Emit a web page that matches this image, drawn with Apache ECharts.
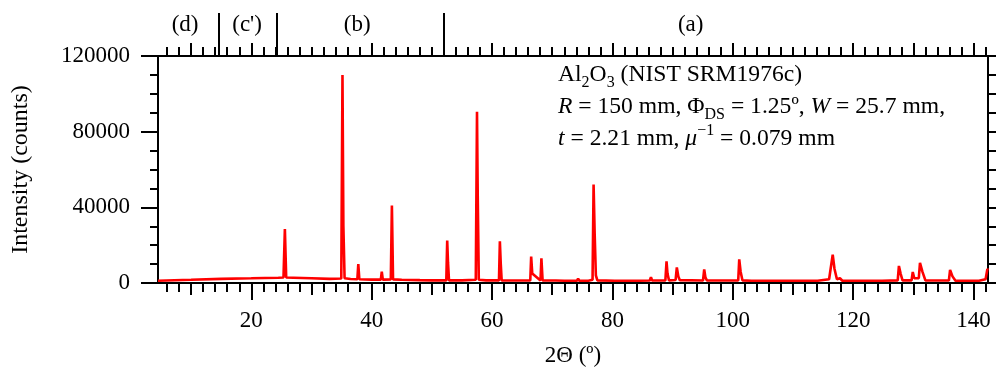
<!DOCTYPE html>
<html>
<head>
<meta charset="utf-8">
<script src="https://cdn.jsdelivr.net/npm/echarts@6/dist/echarts.min.js"></script>
<style>
  html, body { margin: 0; padding: 0; background: #fff; }
  #chart { width: 997px; height: 372px; }
</style>
</head>
<body>
<div id="chart"></div>
<script>
// 2Θ (deg) and intensity (counts)
var twoTheta = [4.5, 10, 15, 20, 24.5, 25.35, 25.58, 25.8, 27, 30, 33, 34.95, 35.15, 35.3, 35.5, 36.5,
  37.62, 37.78, 37.95, 40, 41.52, 41.68, 41.85, 43.18, 43.36, 43.55, 45, 48, 50,
  52.4, 52.55, 52.68, 52.85, 55, 57.3, 57.5, 57.62, 57.8, 59, 61.15, 61.3, 61.45, 61.6, 63,
  66.35, 66.5, 66.68, 68.05, 68.2, 68.4, 70.2, 70.4, 70.6, 72, 74.1, 74.3, 74.5, 76, 76.7, 76.87, 77.05, 77.25, 77.5,
  80.4, 80.6, 80.8, 83.0, 83.2, 83.4, 84.2, 84.4, 84.6, 86.2, 86.4, 86.6, 88.8, 88.99, 89.15, 89.4,
  90.5, 90.7, 90.95, 91.2, 95.05, 95.25, 95.45, 95.7, 100.9, 101.07, 101.3, 101.6,
  103.1, 103.3, 103.5, 109.5, 110.7, 110.9, 111.1, 113.7, 113.9, 114.1, 116.0, 116.6, 116.9, 117.3, 117.8, 118.2,
  121.9, 122.1, 122.3, 124.4, 124.6, 124.8, 127.4, 127.6, 127.9, 128.2, 129.7, 129.9, 130.15, 130.9, 131.1, 131.5, 132,
  135.9, 136.1, 136.5, 137, 140.5, 140.7, 140.9, 142.0, 142.3, 142.4];
var counts = [1200, 1700, 2200, 2500, 2800, 2900, 28500, 2900, 2800, 2500, 2200, 2400, 110000, 30000, 2500, 2100,
  2000, 10000, 2000, 1800, 1800, 6000, 1800, 1900, 41000, 1900, 1700, 1500, 1400,
  1400, 22500, 11000, 1400, 1400, 1700, 90500, 46500, 1700, 1400, 1400, 22000, 10000, 1400, 1300,
  1300, 14000, 5000, 1300, 13000, 1300, 1300, 2200, 1300, 1200, 1200, 2300, 1200, 1200, 1700, 52000, 26000, 4000, 1400,
  1200, 2200, 1200, 1200, 1700, 1200, 1200, 2200, 1200, 1300, 3000, 1300, 1400, 11500, 5000, 1400,
  1600, 8200, 3500, 1500, 1300, 7200, 3000, 1300, 1300, 12500, 6000, 1400,
  1200, 1800, 1200, 1200, 1200, 2200, 1200, 1200, 2000, 1200, 2000, 15000, 7400, 2000, 2500, 1200,
  1200, 1600, 1200, 1200, 1600, 1200, 1400, 9000, 4700, 1400, 1400, 5800, 2500, 2500, 10700, 6000, 1400,
  1300, 6900, 3500, 1200, 1200, 1500, 1200, 2000, 7400, 7000];

var xLabelTicks = [20, 40, 60, 80, 100, 120, 140];
var xMidTicks = [10, 30, 50, 70, 90, 110, 130];
var xMinorTicks = [];
for (var t = 6; t <= 142; t += 2) { if (t % 10 !== 0) xMinorTicks.push(t); }
var xTopMidTicks = [10, 20, 40, 60, 80, 100, 120, 130, 140];
var xTopMinorTicks = [];
for (var u = 6; u <= 142; u += 2) { if (xTopMidTicks.indexOf(u) < 0) xTopMinorTicks.push(u); }
var regionEdges = [14.6, 24.2, 51.9];
var regionLabelPos = [9, 19.3, 37.6, 93];
var regionLabels = ['(d)', "(c')", '(b)', '(a)'];

var serif = 'Liberation Serif, Times New Roman, serif';
var xMin = 4.5, xMax = 142.4;

function tickAxis(pos, ticks, len, extra) {
  var a = {
    type: 'value', position: pos, min: xMin, max: xMax,
    axisLine: { show: true, lineStyle: { color: '#000', width: 2 } },
    axisTick: { show: true, customValues: ticks, length: len, lineStyle: { color: '#000', width: 2 } },
    axisLabel: { show: false },
    splitLine: { show: false }
  };
  if (extra) { for (var k in extra) a[k] = extra[k]; }
  return a;
}

var chart = echarts.init(document.getElementById('chart'));
chart.setOption({
  animation: false,
  grid: { left: 158, right: 9, top: 56, bottom: 89 },
  xAxis: [
    tickAxis('bottom', xLabelTicks, 17, {
      name: '2Θ (º)', nameLocation: 'middle', nameGap: 61,
      nameTextStyle: { fontFamily: serif, fontSize: 23, color: '#000' },
      axisLabel: { show: true, customValues: xLabelTicks, margin: 26, fontFamily: serif, fontSize: 23, color: '#000' }
    }),
    tickAxis('bottom', xMidTicks, 12),
    tickAxis('bottom', xMinorTicks, 9),
    tickAxis('top', xTopMinorTicks, 9),
    tickAxis('top', xTopMidTicks, 13),
    tickAxis('top', regionEdges, 43, {
      axisLabel: {
        show: true, customValues: regionLabelPos, margin: 20,
        fontFamily: serif, fontSize: 23, color: '#000',
        formatter: function (v) { return regionLabels[regionLabelPos.indexOf(v)]; }
      }
    })
  ],
  yAxis: [
    {
      type: 'value', position: 'left', min: 0, max: 120000, interval: 40000,
      name: 'Intensity (counts)', nameLocation: 'middle', nameGap: 125,
      nameTextStyle: { fontFamily: serif, fontSize: 24, color: '#000' },
      axisLine: { show: true, lineStyle: { color: '#000', width: 2 } },
      axisTick: { show: true, length: 17, lineStyle: { color: '#000', width: 2 } },
      minorTick: { show: true, splitNumber: 4, length: 8, lineStyle: { color: '#000', width: 2 } },
      axisLabel: { margin: 28, fontFamily: serif, fontSize: 23, color: '#000',
        formatter: function (v) { return String(v); } },
      splitLine: { show: false }, minorSplitLine: { show: false }
    },
    {
      type: 'value', position: 'right', min: 0, max: 120000, interval: 40000,
      axisLine: { show: true, lineStyle: { color: '#000', width: 2 } },
      axisTick: { show: true, length: 8, lineStyle: { color: '#000', width: 2 } },
      minorTick: { show: true, splitNumber: 4, length: 8, lineStyle: { color: '#000', width: 2 } },
      axisLabel: { show: false },
      splitLine: { show: false }, minorSplitLine: { show: false }
    }
  ],
  graphic: [{
    type: 'text', left: 558, top: 59, z: 100,
    style: {
      text: 'Al{sub|2}O{sub|3} (NIST SRM1976c)\n{i|R} = 150 mm, Φ{sub|DS} = 1.25º, {i|W} = 25.7 mm,\n{i|t} = 2.21 mm, {i|μ}{sup|−1} = 0.079 mm',
      fontFamily: serif, fontSize: 23.6, fill: '#000', lineHeight: 32,
      rich: {
        sub: { fontFamily: serif, fontSize: 16, lineHeight: 16, verticalAlign: 'bottom', fill: '#000' },
        sup: { fontFamily: serif, fontSize: 16, lineHeight: 18, verticalAlign: 'top', fill: '#000' },
        i: { fontFamily: serif, fontSize: 23.6, fontStyle: 'italic', lineHeight: 32, fill: '#000' }
      }
    }
  }],
  series: [{
    type: 'line',
    xAxisIndex: 0, yAxisIndex: 0,
    data: twoTheta.map(function (x, i) { return [x, counts[i]]; }),
    showSymbol: false,
    lineStyle: { color: '#ff0000', width: 2.6 },
    itemStyle: { color: '#ff0000' },
    z: 1
  }]
});
</script>
</body>
</html>
